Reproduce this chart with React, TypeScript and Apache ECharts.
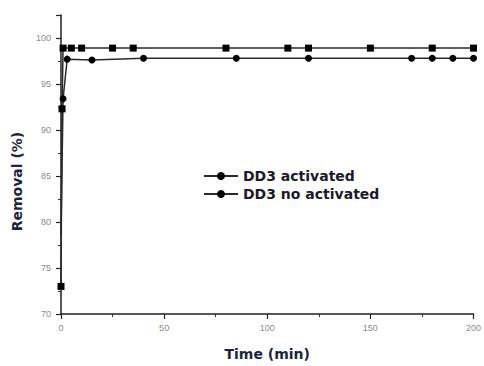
import React, { useEffect, useRef } from "react";
import * as echarts from "echarts";

const seriesNames = ["DD3 activated", "DD3 no activated"];
const activatedTime = [0, 0.5, 1, 5, 10, 25, 35, 80, 110, 120, 150, 180, 200];
const activatedRemoval = [73.0, 92.3, 98.9, 98.9, 98.9, 98.9, 98.9, 98.9, 98.9, 98.9, 98.9, 98.9, 98.9];
const noActTime = [0, 1, 3, 15, 40, 85, 120, 170, 180, 190, 200];
const noActRemoval = [78.7, 93.4, 97.7, 97.6, 97.8, 97.8, 97.8, 97.8, 97.8, 97.8, 97.8];

export default function App() {
  const ref = useRef<HTMLDivElement>(null);
  useEffect(() => {
    if (!ref.current) return;
    const chart = echarts.init(ref.current, null, { renderer: "svg" });
    const lineColor = "#2a2a2a";
    const axisCommon = {
      axisLine: { show: true, onZero: false, lineStyle: { color: "#222", width: 1.5 } },
      axisTick: { show: true, inside: false, length: 5, lineStyle: { color: "#222", width: 1.2 } },
      minorTick: { show: true, splitNumber: 2, length: 3, lineStyle: { color: "#333", width: 1 } },
      splitLine: { show: false },
      axisLabel: { color: "#8a8a8a", fontSize: 9, fontFamily: "Liberation Sans, Arial, sans-serif" },
      nameTextStyle: { fontFamily: "DejaVu Sans", fontWeight: "bold", fontSize: 14, color: "#1c2540" },
    };
    chart.setOption({
      animation: false,
      backgroundColor: "#ffffff",
      grid: { left: 61, right: 9, top: 15, bottom: 48 },
      legend: {
        orient: "vertical",
        left: 198,
        top: 164,
        itemWidth: 34,
        itemHeight: 10,
        itemGap: 4,
        data: seriesNames,
        textStyle: { fontFamily: "DejaVu Sans", fontWeight: "bold", fontSize: 14, color: "#1a1a28" },
      },
      xAxis: {
        type: "value",
        min: 0,
        max: 200,
        interval: 50,
        name: "Time (min)",
        nameLocation: "middle",
        nameGap: 33,
        ...axisCommon,
        axisLabel: { ...axisCommon.axisLabel, margin: 9 },
      },
      yAxis: {
        type: "value",
        min: 70,
        max: 102.5,
        interval: 5,
        name: "Removal (%)",
        nameLocation: "middle",
        nameGap: 37,
        ...axisCommon,
        nameTextStyle: { ...axisCommon.nameTextStyle, padding: [0, 34, 0, 0] },
        axisLabel: {
          ...axisCommon.axisLabel,
          margin: 10,
          formatter: (v: number) => (v % 5 === 0 ? String(v) : ""),
        },
      },
      series: [
        {
          name: seriesNames[0],
          type: "line",
          data: activatedTime.map((t, i) => ({ value: [t, activatedRemoval[i]], symbol: "rect" })),
          symbol: "circle",
          symbolSize: 7,
          clip: false,
          lineStyle: { color: lineColor, width: 1.5 },
          itemStyle: { color: "#000" },
        },
        {
          name: seriesNames[1],
          type: "line",
          data: noActTime.map((t, i) =>
            i === 0 ? { value: [t, noActRemoval[i]], symbol: "none" } : [t, noActRemoval[i]]
          ),
          symbol: "circle",
          symbolSize: 7,
          clip: false,
          lineStyle: { color: lineColor, width: 1.5 },
          itemStyle: { color: "#000" },
        },
      ],
    });
    return () => chart.dispose();
  }, []);
  return <div ref={ref} style={{ width: 484, height: 366, position: "fixed", left: 0, top: 0 }} />;
}
